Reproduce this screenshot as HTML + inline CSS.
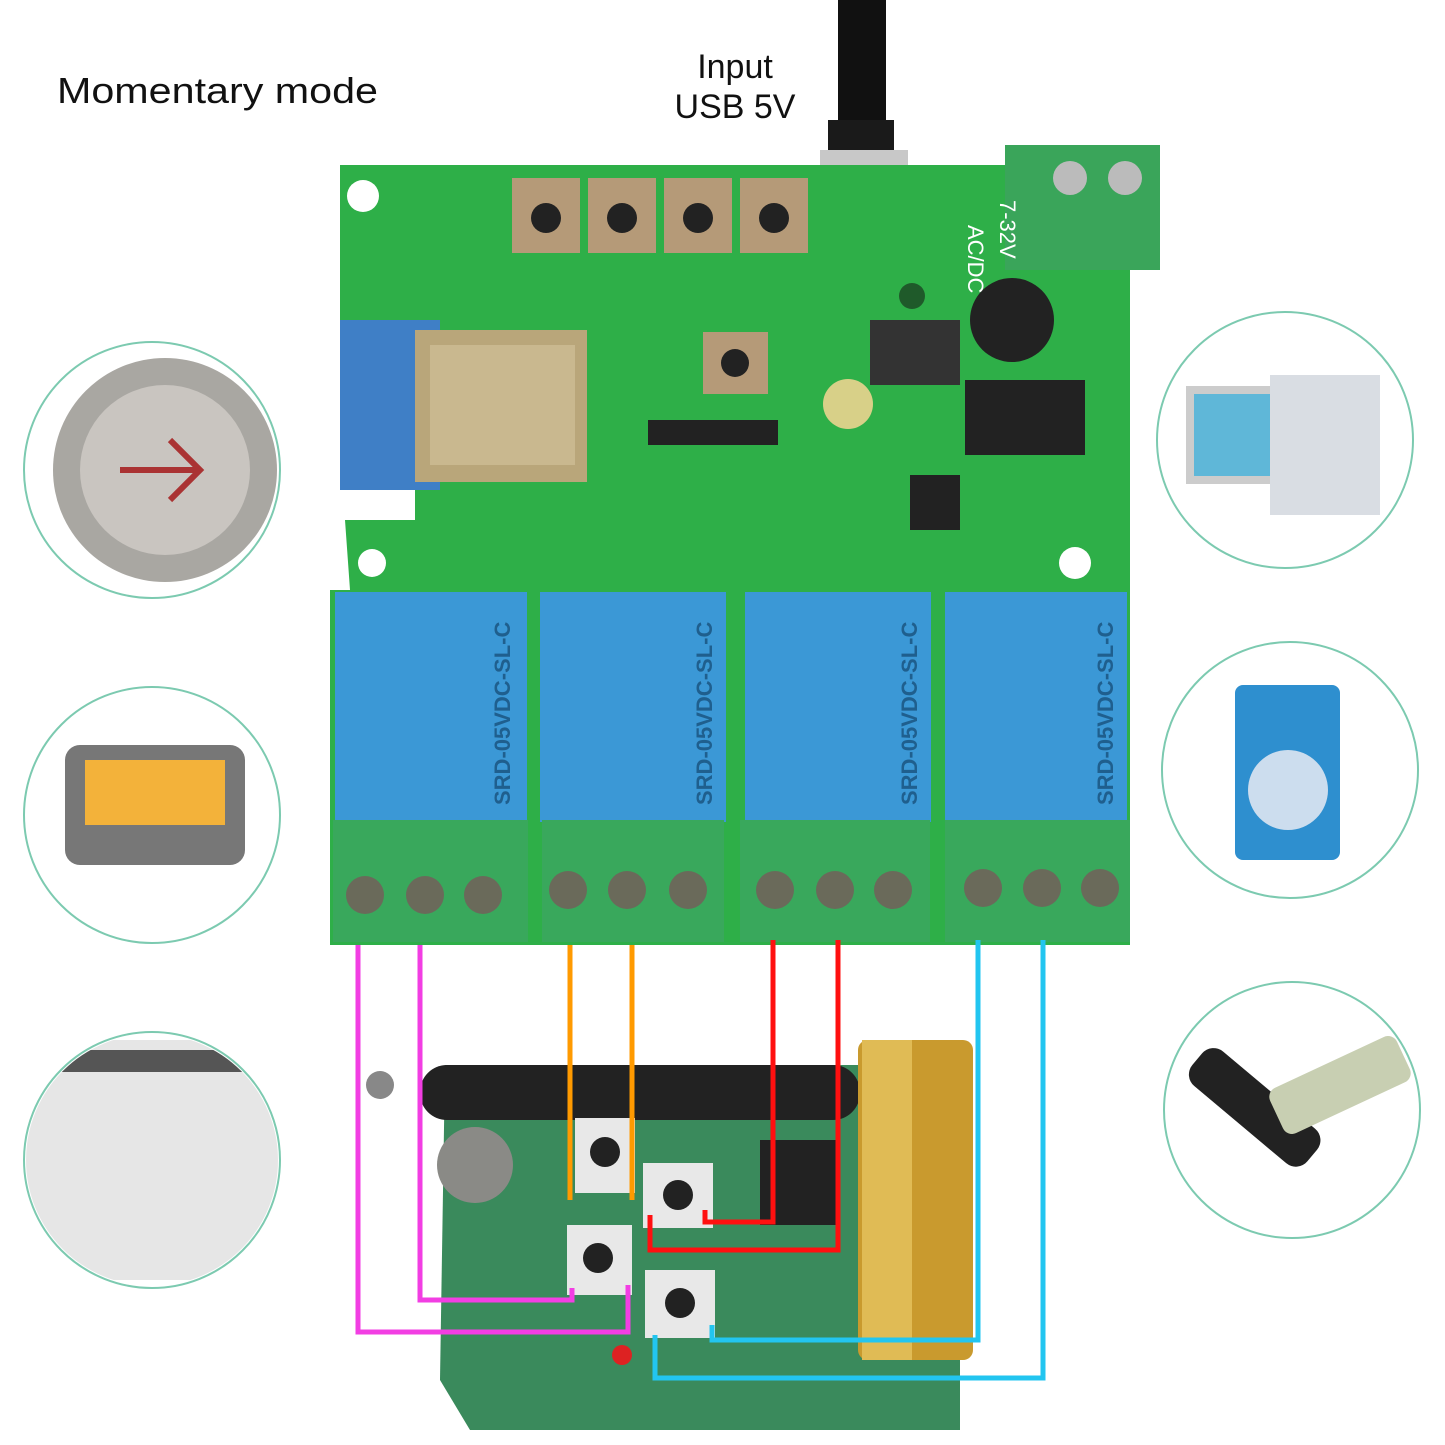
<!DOCTYPE html>
<html><head><meta charset="utf-8"><style>
html,body{margin:0;padding:0;background:#fff;}
svg{display:block;}
text{font-family:"Liberation Sans",sans-serif;}
</style></head><body>
<svg width="1445" height="1445" viewBox="0 0 1445 1445" xmlns="http://www.w3.org/2000/svg">
<defs>
<clipPath id="c3"><circle cx="152" cy="1160" r="126"/></clipPath>
<clipPath id="c1"><circle cx="152" cy="470" r="126"/></clipPath>
</defs>
<rect width="1445" height="1445" fill="#fff"/>
<text x="57" y="103" font-size="36" fill="#111" textLength="321" lengthAdjust="spacingAndGlyphs">Momentary mode</text>
<text x="735" y="78" font-size="34" fill="#111" text-anchor="middle">Input</text>
<text x="735" y="118" font-size="34" fill="#111" text-anchor="middle">USB 5V</text>
<!-- USB cable -->
<rect x="838" y="0" width="48" height="150" fill="#111"/>
<rect x="828" y="120" width="66" height="40" fill="#1a1a1a"/>
<rect x="820" y="150" width="88" height="65" fill="#c8c8c8"/>
<!-- PCB -->
<path d="M340 165 H1005 V270 H1130 V945 H330 V590 H350 L345 520 H415 V490 H340 Z" fill="#2eaf48"/>
<rect x="340" y="320" width="100" height="170" fill="#3f7fc6"/>
<rect x="415" y="330" width="172" height="152" fill="#b9a67a"/>
<rect x="430" y="345" width="145" height="120" fill="#c9b88f"/>
<circle cx="363" cy="196" r="16" fill="#fff"/>
<circle cx="1075" cy="563" r="16" fill="#fff"/>
<circle cx="372" cy="563" r="14" fill="#fff"/>
<circle cx="912" cy="296" r="13" fill="#1f5a2a"/>
<g fill="#b59a78"><rect x="512" y="178" width="68" height="75"/><rect x="588" y="178" width="68" height="75"/><rect x="664" y="178" width="68" height="75"/><rect x="740" y="178" width="68" height="75"/><rect x="703" y="332" width="65" height="62"/></g>
<g fill="#222"><circle cx="546" cy="218" r="15"/><circle cx="622" cy="218" r="15"/><circle cx="698" cy="218" r="15"/><circle cx="774" cy="218" r="15"/><circle cx="735" cy="363" r="14"/></g>
<rect x="1005" y="145" width="155" height="125" fill="#3aa55a"/>
<circle cx="1070" cy="178" r="17" fill="#bbb"/><circle cx="1125" cy="178" r="17" fill="#bbb"/>
<circle cx="1012" cy="320" r="42" fill="#222"/>
<circle cx="848" cy="404" r="25" fill="#d8d088"/>
<rect x="965" y="380" width="120" height="75" fill="#222"/>
<rect x="870" y="320" width="90" height="65" fill="#333"/>
<rect x="910" y="475" width="50" height="55" fill="#222"/>
<rect x="648" y="420" width="130" height="25" fill="#222"/>
<text transform="translate(1000 200) rotate(90)" font-size="22" fill="#fff">7-32V</text>
<text transform="translate(968 225) rotate(90)" font-size="22" fill="#fff">AC/DC</text>
<!-- relays -->
<g fill="#3b98d6"><rect x="335" y="592" width="192" height="230"/><rect x="540" y="592" width="186" height="230"/><rect x="745" y="592" width="186" height="230"/><rect x="945" y="592" width="182" height="230"/></g>
<g fill="#1f5f8e" font-size="22" font-weight="bold">
<text transform="translate(510 805) rotate(-90)">SRD-05VDC-SL-C</text>
<text transform="translate(712 805) rotate(-90)">SRD-05VDC-SL-C</text>
<text transform="translate(917 805) rotate(-90)">SRD-05VDC-SL-C</text>
<text transform="translate(1113 805) rotate(-90)">SRD-05VDC-SL-C</text>
</g>
<g fill="#39a85c"><rect x="333" y="820" width="195" height="122"/><rect x="542" y="820" width="182" height="122"/><rect x="740" y="820" width="190" height="122"/><rect x="945" y="820" width="185" height="122"/></g>
<g fill="#6a6a5a"><circle cx="365" cy="895" r="19"/><circle cx="425" cy="895" r="19"/><circle cx="483" cy="895" r="19"/><circle cx="568" cy="890" r="19"/><circle cx="627" cy="890" r="19"/><circle cx="688" cy="890" r="19"/><circle cx="775" cy="890" r="19"/><circle cx="835" cy="890" r="19"/><circle cx="893" cy="890" r="19"/><circle cx="983" cy="888" r="19"/><circle cx="1042" cy="888" r="19"/><circle cx="1100" cy="888" r="19"/></g>
<!-- remote -->
<path d="M445 1065 H960 V1430 H470 L440 1380 Z" fill="#3a8a5c"/>
<rect x="420" y="1065" width="440" height="55" rx="27" fill="#222"/>
<circle cx="380" cy="1085" r="14" fill="#888"/>
<circle cx="475" cy="1165" r="38" fill="#8a8a86"/>
<rect x="858" y="1040" width="115" height="320" rx="10" fill="#c99a2e"/>
<rect x="862" y="1040" width="50" height="320" fill="#e0bb55"/>
<g fill="#e8e8e8"><rect x="575" y="1118" width="60" height="75"/><rect x="643" y="1163" width="70" height="65"/><rect x="567" y="1225" width="65" height="70"/><rect x="645" y="1270" width="70" height="68"/></g>
<g fill="#222"><circle cx="605" cy="1152" r="15"/><circle cx="678" cy="1195" r="15"/><circle cx="598" cy="1258" r="15"/><circle cx="680" cy="1303" r="15"/></g>
<circle cx="622" cy="1355" r="10" fill="#d22"/>
<rect x="760" y="1140" width="80" height="85" fill="#222"/>
<g fill="none" stroke-width="5">
<path d="M358 945 V1332 H628 V1285" stroke="#f23ee3"/>
<path d="M420 945 V1300 H572 V1288" stroke="#f23ee3"/>
<path d="M570 945 V1200" stroke="#ff9a00"/>
<path d="M632 945 V1200" stroke="#ff9a00"/>
<path d="M773 940 V1222 H705 V1210" stroke="#ff1010"/>
<path d="M838 940 V1250 H650 V1215" stroke="#ff1010"/>
<path d="M978 940 V1340 H712 V1325" stroke="#22c5f0"/>
<path d="M1043 940 V1378 H655 V1335" stroke="#22c5f0"/>
</g>
<g fill="#fff" stroke="#7ccab0" stroke-width="2">
<circle cx="152" cy="470" r="128"/><circle cx="152" cy="815" r="128"/><circle cx="152" cy="1160" r="128"/>
<circle cx="1285" cy="440" r="128"/><circle cx="1290" cy="770" r="128"/><circle cx="1292" cy="1110" r="128"/>
</g>
<g clip-path="url(#c1)"><circle cx="165" cy="470" r="112" fill="#a9a7a2"/><circle cx="165" cy="470" r="85" fill="#c9c5c0"/></g>
<path d="M120 470 H200 M170 440 L200 470 L170 500" stroke="#a33" stroke-width="6" fill="none"/>
<rect x="65" y="745" width="180" height="120" rx="15" fill="#777"/><rect x="85" y="760" width="140" height="65" fill="#f3b23a"/>
<g clip-path="url(#c3)"><rect x="20" y="1040" width="270" height="240" fill="#e6e6e6"/><rect x="30" y="1050" width="250" height="22" fill="#555"/></g>
<rect x="1190" y="390" width="110" height="90" fill="#5fb7d8" stroke="#ccc" stroke-width="8"/><rect x="1270" y="375" width="110" height="140" fill="#d9dde3"/>
<rect x="1235" y="685" width="105" height="175" rx="8" fill="#2e8fcf"/><circle cx="1288" cy="790" r="40" fill="#cde"/>
<rect x="1180" y="1085" width="150" height="45" rx="15" fill="#222" transform="rotate(40 1255 1107)"/>
<rect x="1270" y="1060" width="140" height="50" rx="10" fill="#c8cfb2" transform="rotate(-25 1340 1085)"/>
</svg>
</body></html>
